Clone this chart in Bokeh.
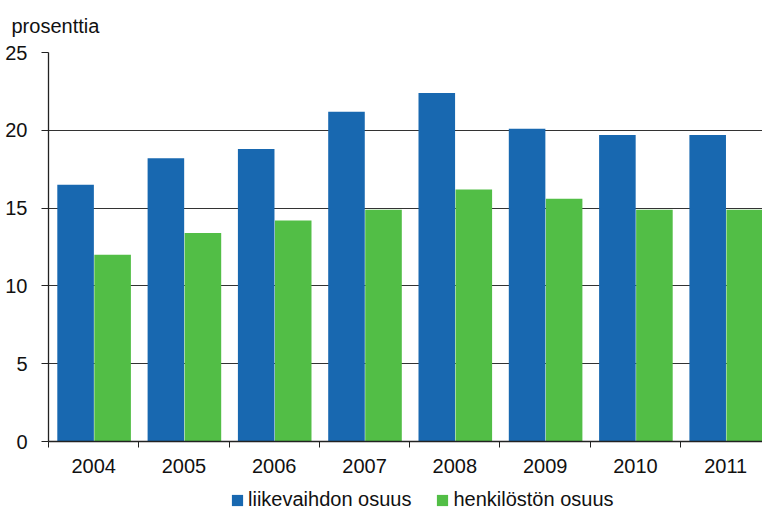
from bokeh.plotting import figure
from bokeh.layouts import column
from bokeh.models import Range1d, FixedTicker, Legend, LegendItem, ColumnDataSource
from bokeh.embed import file_html
from bokeh.resources import INLINE

years = ["2004", "2005", "2006", "2007", "2008", "2009", "2010", "2011"]
liikevaihto = [16.5, 18.2, 18.8, 21.2, 22.4, 20.1, 19.7, 19.7]
henkilosto = [12.0, 13.4, 14.2, 14.9, 16.2, 15.6, 14.9, 14.9]
series_names = ["liikevaihdon osuus", "henkilöstön osuus"]
unit_label = "prosenttia"
y_ticks = [0, 5, 10, 15, 20, 25]

BLUE = "#1868b0"
GREEN = "#52be46"
FONT = "Liberation Sans"
FS = "20px"

idx = list(range(len(years)))
src = ColumnDataSource(dict(
    xb=[i + 0.30 for i in idx],
    xg=[i + 0.71 for i in idx],
    b=liikevaihto,
    g=henkilosto,
))

p = figure(width=762, height=481, output_backend="svg", toolbar_location=None,
           x_range=Range1d(0, 7.907), y_range=Range1d(0, 25),
           min_border_left=48, min_border_right=0, min_border_top=52, min_border_bottom=40)

p.vbar(x="xb", top="b", width=0.405, bottom=0, source=src, fill_color=BLUE, line_color=None)
p.vbar(x="xg", top="g", width=0.405, bottom=0, source=src, fill_color=GREEN, line_color=None)

p.outline_line_color = None
p.background_fill_color = "white"

# x axis
p.xaxis.ticker = FixedTicker(ticks=[i + 0.5 for i in idx], minor_ticks=list(range(len(years) + 1)))
p.xaxis.major_label_overrides = {i + 0.5: y for i, y in zip(idx, years)}
p.xaxis.major_tick_out = 0
p.xaxis.major_tick_in = 0
p.xaxis.minor_tick_out = 6
p.xaxis.minor_tick_in = 0
p.xaxis.minor_tick_line_color = "#222222"
p.xaxis.axis_line_color = "#222222"
p.xaxis.axis_line_width = 1.3
p.xaxis.major_label_text_font = FONT
p.xaxis.major_label_text_font_size = FS
p.xaxis.major_label_text_color = "#111111"
p.xaxis.major_label_standoff = 11
p.xgrid.visible = False

# y axis
p.yaxis.ticker = FixedTicker(ticks=y_ticks, minor_ticks=[])
p.yaxis.major_tick_out = 7
p.yaxis.major_tick_in = 0
p.yaxis.major_tick_line_color = "#222222"
p.yaxis.axis_line_color = "#222222"
p.yaxis.axis_line_width = 1.3
p.yaxis.major_label_text_font = FONT
p.yaxis.major_label_text_font_size = FS
p.yaxis.major_label_text_color = "#111111"
p.yaxis.major_label_standoff = 14
p.ygrid.ticker = FixedTicker(ticks=y_ticks)
p.ygrid.grid_line_color = "#333333"
p.ygrid.grid_line_width = 1.2

# title acting as unit label
p.title.text = unit_label
p.title.text_font = FONT
p.title.text_font_size = FS
p.title.text_font_style = "normal"
p.title.text_color = "#111111"
p.title.align = "left"
p.title.vertical_align = "top"
p.title.offset = -37
p.title.standoff = 28

# legend strip (its bars sit outside the visible ranges; only the legend shows)
lg = figure(width=762, height=30, output_backend="svg", toolbar_location=None,
            x_range=Range1d(100, 101), y_range=Range1d(100, 101),
            min_border_left=0, min_border_right=0, min_border_top=0, min_border_bottom=0)
lg.axis.visible = False
lg.grid.visible = False
lg.outline_line_color = None
rb = lg.vbar(x="xb", top="b", width=0.405, source=src, fill_color=BLUE, line_color=None)
rg = lg.vbar(x="xg", top="g", width=0.405, source=src, fill_color=GREEN, line_color=None)

legend = Legend(items=[LegendItem(label=series_names[0], renderers=[rb], index=0),
                       LegendItem(label=series_names[1], renderers=[rg], index=0)],
                orientation="horizontal", location=(182, 0))
legend.glyph_width = 14
legend.glyph_height = 14
legend.label_text_font = FONT
legend.label_text_font_size = FS
legend.label_text_color = "#111111"
legend.label_standoff = 4
legend.spacing = 24
legend.padding = 0
legend.margin = 0
legend.border_line_color = None
legend.background_fill_alpha = 0
lg.add_layout(legend)

open("out.html", "w").write(file_html(column(p, lg, spacing=0), INLINE))
